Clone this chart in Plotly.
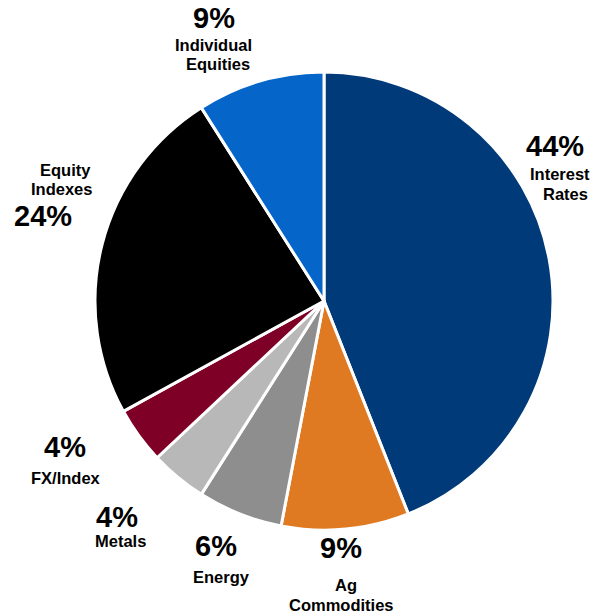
import plotly.graph_objects as go

categories = ["Interest Rates", "Ag Commodities", "Energy", "Metals", "FX/Index",
              "Equity Indexes", "Individual Equities"]
values = [44, 9, 6, 4, 4, 24, 9]
colors = ["#003a78", "#e07a22", "#8e8e8e", "#b8b8b8", "#7e0026", "#000000", "#0565c8"]

# label lines: (text, x_px, y_px)
pct_labels = ["44%", "9%", "6%", "4%", "4%", "24%", "9%"]
pct_pos = [(555, 146), (341, 548), (216, 546), (117, 517), (65, 447), (43, 216), (214, 18)]
name_lines = [
    ("Interest", 560, 174), ("Rates", 565, 193.5),
    ("Ag", 346, 585), ("Commodities", 342, 604.5),
    ("Energy", 221, 577),
    ("Metals", 120, 541),
    ("FX/Index", 66, 478),
    ("Equity", 65, 169.5), ("Indexes", 61, 189),
    ("Individual", 213, 44.5), ("Equities", 218, 64),
]

W, H = 600, 615
cx, cy, r = 324, 301, 229

fig = go.Figure(go.Pie(
    labels=categories, values=values, sort=False, direction="clockwise",
    rotation=0, textinfo="none", hoverinfo="label+percent",
    marker=dict(colors=colors, line=dict(color="white", width=3)),
    domain=dict(x=[(cx - r) / W, (cx + r) / W], y=[1 - (cy + r) / H, 1 - (cy - r) / H]),
    showlegend=False,
))

ann = []
for t, (x, y) in zip(pct_labels, pct_pos):
    ann.append(dict(text=f"<b>{t}</b>", x=x / W, y=1 - y / H, xref="paper", yref="paper",
                    xanchor="center", yanchor="middle", showarrow=False,
                    font=dict(family="Liberation Sans, Arial", size=29, color="black")))
for t, x, y in name_lines:
    ann.append(dict(text=f"<b>{t}</b>", x=x / W, y=1 - y / H, xref="paper", yref="paper",
                    xanchor="center", yanchor="middle", showarrow=False,
                    font=dict(family="Liberation Sans, Arial", size=16.5, color="black")))

fig.update_layout(width=W, height=H, margin=dict(l=0, r=0, t=0, b=0),
                  paper_bgcolor="white", plot_bgcolor="white", annotations=ann)
fig.write_html("out.html")
